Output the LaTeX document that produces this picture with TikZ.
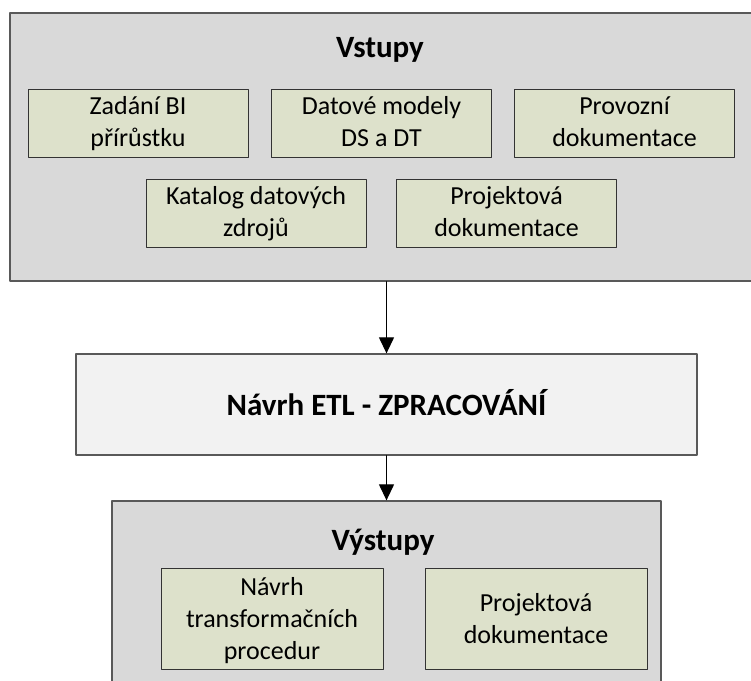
\documentclass[tikz,border=0pt]{standalone}
\usepackage{fontspec}
\setmainfont{Carlito}
\usepackage{xcolor}
\usetikzlibrary{arrows.meta,calc}
\definecolor{rampa}{HTML}{D9D9D9}
\definecolor{polozka}{HTML}{DDE1CB}
\definecolor{proces}{HTML}{F2F2F2}
\definecolor{okraj}{HTML}{595959}
\newcommand{\radky}[1]{\begin{tabular}{@{}c@{}}#1\end{tabular}}

\begin{document}
\begin{tikzpicture}[line cap=round,line join=round,>={Triangle[length=16pt,width=15pt]},x=1pt,y=-1pt,
  skupina/.style={draw=okraj,line width=1.3pt,fill=rampa,inner sep=0pt},
  popis/.style={font=\fontsize{26}{32}\selectfont,inner sep=0pt,anchor=center},
  ramecek/.style={draw=black!80,line width=0.9pt,fill=polozka,inner sep=0pt},
  polozka/.style={ramecek,minimum width=220pt,minimum height=68pt,
    label={[popis,yshift=-1.5pt]center:\radky{#1}}},
  vysledek/.style={ramecek,minimum width=222pt,minimum height=101pt,
    label={[popis,yshift=-3pt]center:\radky{#1}}},
  nadpis/.style={anchor=base,font=\fontsize{31}{36}\selectfont\bfseries}]
\useasboundingbox (0,0) rectangle (751,680);
\clip (0,0) rectangle (751,680);
\node[skupina,minimum width=745pt,minimum height=268pt] (vstupy) at (382.5,147) {};
\node[skupina,minimum width=549pt,minimum height=199pt] (vystupy) at (386.5,600.5) {};
\node[draw=okraj,line width=1.3pt,fill=proces,minimum width=621pt,minimum height=101pt] (navrh) at (386.5,404.5) {};
\node[nadpis] (tvstupy) at (380,57) {Vstupy};
\node[nadpis] (tvystupy) at (383,550) {Výstupy};
\node[nadpis] (tnavrh) at (386.5,415) {Návrh ETL - ZPRACOVÁNÍ};
\node[polozka={Zadání BI\\přírůstku}] (zadani) at (138,123) {};
\node[polozka={Datové modely\\DS a DT}] (modely) at (381.5,123) {};
\node[polozka={Provozní\\dokumentace}] (provoz) at (624.5,123) {};
\node[polozka={Katalog datových\\zdrojů}] (katalog) at (256,213) {};
\node[polozka={Projektová\\dokumentace}] (projekt) at (506.5,213) {};
\node[vysledek={Návrh\\transformačních\\procedur}] (transf) at (272,618.5) {};
\node[vysledek={Projektová\\dokumentace}] (projekt2) at (536,618.5) {};
\draw[->,line width=1.2pt] (vstupy.south -| navrh.north) -- (navrh.north);
\draw[->,line width=1.2pt] (navrh.south) -- (vystupy.north);
\end{tikzpicture}
\end{document}
